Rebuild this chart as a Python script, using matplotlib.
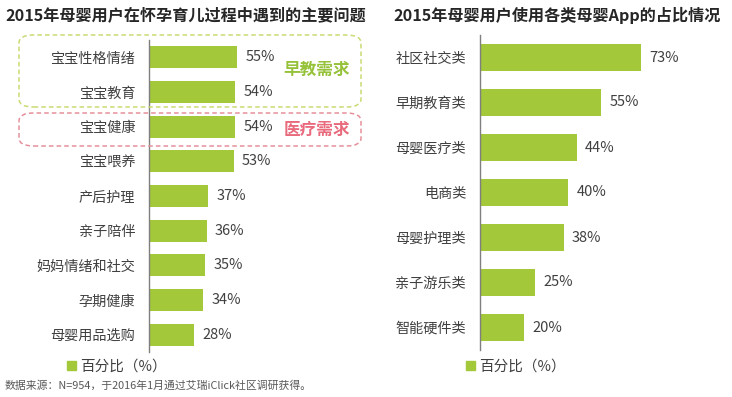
import matplotlib.pyplot as plt
from matplotlib.patches import FancyBboxPatch, Patch

plt.rcParams['font.family'] = ['Noto Sans CJK SC', 'DejaVu Sans']

# left chart data
problems = ["宝宝性格情绪", "宝宝教育", "宝宝健康", "宝宝喂养", "产后护理",
            "亲子陪伴", "妈妈情绪和社交", "孕期健康", "母婴用品选购"]
problem_pct = [55, 54, 54, 53, 37, 36, 35, 34, 28]

# right chart data
app_types = ["社区社交类", "早期教育类", "母婴医疗类", "电商类",
             "母婴护理类", "亲子游乐类", "智能硬件类"]
app_pct = [73, 55, 44, 40, 38, 25, 20]

W, H = 732, 397
GREEN = '#a3c83a'
TXT = '#404040'

fig = plt.figure(figsize=(W / 100, H / 100), dpi=100)


def px_axes(x0, y0, w, h):
    # pixel box (top-left origin) -> figure coords
    return fig.add_axes([x0 / W, 1 - (y0 + h) / H, w / W, h / H])


def bar_panel(ax, cats, vals, height):
    ax.barh(range(len(cats)), vals, height=height, color=GREEN)
    ax.set_xlim(0, 100)
    ax.set_ylim(len(cats) - 0.5, -0.5)
    ax.set_yticks(range(len(cats)))
    ax.set_yticklabels(cats, fontsize=10.2, color=TXT)
    ax.tick_params(axis='y', length=0, pad=10)
    ax.set_xticks([])
    for s in ['top', 'right', 'bottom']:
        ax.spines[s].set_visible(False)
    ax.spines['left'].set_color('#7f7f7f')
    ax.spines['left'].set_linewidth(1.0)
    ax.set_facecolor('none')
    for i, v in enumerate(vals):
        ax.annotate(f"{v}%", (v, i), xytext=(6, 0), textcoords='offset points',
                    va='center', ha='left', fontsize=10.5, color=TXT)


ax1 = px_axes(149, 40, 160, 312)
bar_panel(ax1, problems, problem_pct, 0.64)

ax2 = px_axes(480, 35, 220, 315)
bar_panel(ax2, app_types, app_pct, 0.62)

# titles
fig.text(5 / W, 1 - 15 / H, "2015年母婴用户在怀孕育儿过程中遇到的主要问题",
         fontsize=11.6, fontweight='bold', color='#262626', va='center', ha='left')
fig.text(393 / W, 1 - 15 / H, "2015年母婴用户使用各类母婴App的占比情况",
         fontsize=11.6, fontweight='bold', color='#262626', va='center', ha='left')

# dashed group boxes
box1 = FancyBboxPatch((19 / W, 1 - 107 / H), 342 / W, 72 / H,
                      boxstyle="round,pad=0,rounding_size=0.02",
                      transform=fig.transFigure, fill=False,
                      edgecolor='#c8dc74', linestyle=(0, (3, 2)), linewidth=1.1)
box2 = FancyBboxPatch((19 / W, 1 - 146 / H), 342 / W, 33 / H,
                      boxstyle="round,pad=0,rounding_size=0.02",
                      transform=fig.transFigure, fill=False,
                      edgecolor='#e6909b', linestyle=(0, (3, 2)), linewidth=1.1)
fig.patches.extend([box1, box2])
fig.text(317 / W, 1 - 70 / H, "早教需求", fontsize=12, fontweight='bold',
         color='#96c23a', ha='center', va='center')
fig.text(317 / W, 1 - 130 / H, "医疗需求", fontsize=12, fontweight='bold',
         color='#e86a7c', ha='center', va='center')

# legends
for x0 in (54, 453):
    fig.legend(handles=[Patch(color=GREEN, label="百分比（%）")],
               loc='center left', bbox_to_anchor=(x0 / W, 1 - 367 / H),
               frameon=False, fontsize=10.5, handlelength=0.6, handleheight=0.6,
               handletextpad=0.3, labelcolor=TXT)

fig.text(5 / W, 1 - 386 / H, "数据来源：N=954，于2016年1月通过艾瑞iClick社区调研获得。",
         fontsize=7.8, color='#595959', ha='left', va='center')

fig.savefig("out.png", dpi=100)
